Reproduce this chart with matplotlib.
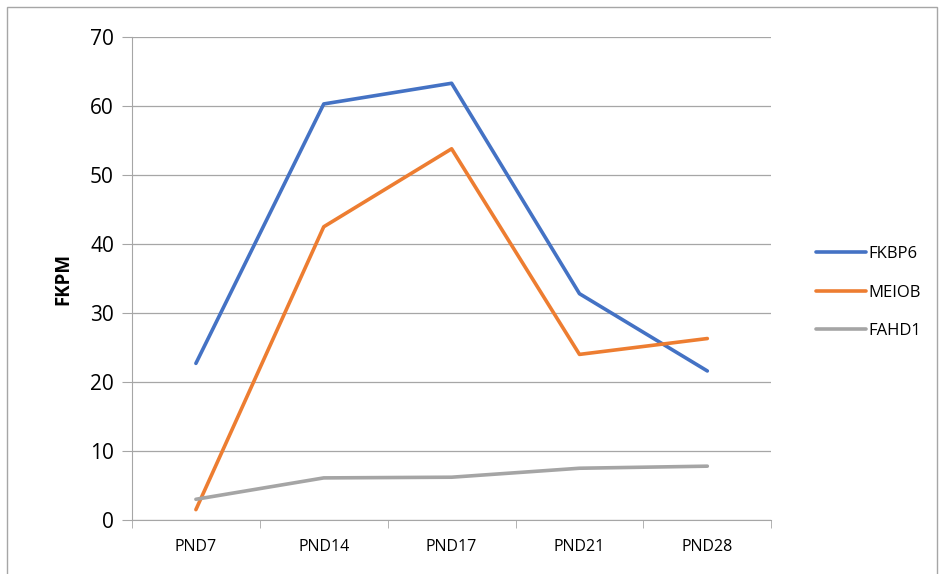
import matplotlib.pyplot as plt
import numpy as np
from matplotlib.patches import Rectangle

# data
stages = ['PND7', 'PND14', 'PND17', 'PND21', 'PND28']
fkbp6 = [22.7, 60.3, 63.3, 32.8, 21.6]
meiob = [1.5, 42.5, 53.8, 24.0, 26.3]
fahd1 = [3.0, 6.1, 6.2, 7.5, 7.8]

plt.rcParams['font.family'] = ['Open Sans', 'DejaVu Sans']

fig = plt.figure(figsize=(9.44, 5.74), dpi=100)
ax = fig.add_axes([0.1398, 0.0941, 0.6772, 0.8414])

x = np.arange(len(stages))
ax.plot(x, fkbp6, color='#4472C4', lw=2.6, label='FKBP6', solid_capstyle='round')
ax.plot(x, meiob, color='#ED7D31', lw=2.6, label='MEIOB', solid_capstyle='round')
ax.plot(x, fahd1, color='#A5A5A5', lw=2.6, label='FAHD1', solid_capstyle='round')

ax.set_xlim(-0.5, len(stages) - 0.5)
ax.set_ylim(0, 70)
ax.set_yticks(range(0, 71, 10))
ax.tick_params(axis='y', labelsize=15, length=7, color='#a6a6a6', pad=6)
ax.set_xticks(x)
ax.set_xticklabels(stages)
ax.set_xticks(np.arange(-0.5, len(stages)), minor=True)
ax.tick_params(axis='x', which='major', length=0, labelsize=11.5, pad=14)
ax.tick_params(axis='x', which='minor', length=6, color='#a6a6a6')
ax.grid(axis='y', color='#a6a6a6', lw=0.9)
ax.set_axisbelow(True)
for s in ['top', 'right']:
    ax.spines[s].set_visible(False)
for s in ['left', 'bottom']:
    ax.spines[s].set_color('#a6a6a6')
ax.set_ylabel('FKPM', fontsize=13.5, fontweight='bold', labelpad=12)

fig.legend(loc='center left', bbox_to_anchor=(0.848, 0.49), frameon=False,
           fontsize=12, handlelength=3.0, handletextpad=0.2, labelspacing=1.35)

# outer chart border
fig.patches.append(Rectangle((7 / 944, -0.01), 930 / 944, 1 - 7 / 574 + 0.01,
                             transform=fig.transFigure, fill=False,
                             edgecolor='#a6a6a6', lw=1))

fig.savefig('out.png', dpi=100)
